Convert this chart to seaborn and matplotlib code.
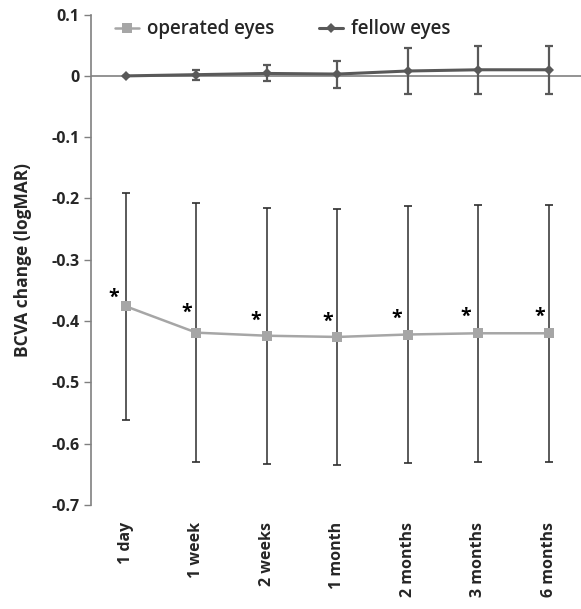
import matplotlib
matplotlib.use("Agg")
import matplotlib.pyplot as plt
import seaborn as sns
import pandas as pd
import numpy as np

categories = ["1 day", "1 week", "2 weeks", "1 month", "2 months", "3 months", "6 months"]
operated_mean = [-0.376, -0.419, -0.424, -0.426, -0.422, -0.420, -0.420]
operated_sd = [0.185, 0.211, 0.209, 0.209, 0.210, 0.210, 0.210]
fellow_mean = [0.000, 0.002, 0.004, 0.003, 0.008, 0.010, 0.010]
fellow_sd = [0.000, 0.008, 0.013, 0.022, 0.037, 0.039, 0.039]
yticks = [0.1, 0, -0.1, -0.2, -0.3, -0.4, -0.5, -0.6, -0.7]

sns.set_theme(style="white")
plt.rcParams["font.family"] = ["Open Sans", "DejaVu Sans"]

df = pd.DataFrame({
    "time": categories * 2,
    "change": operated_mean + fellow_mean,
    "group": ["operated eyes"] * 7 + ["fellow eyes"] * 7,
})

fig = plt.figure(figsize=(5.81, 6.09), dpi=100)
ax = fig.add_axes([0.156, 0.171, 0.846, 0.805])

OP = "#a6a6a6"
FE = "#595959"

sns.lineplot(data=df, x="time", y="change", hue="group", style="group",
             palette={"operated eyes": OP, "fellow eyes": FE},
             markers={"operated eyes": "s", "fellow eyes": "D"},
             dashes=False, sort=False, ax=ax, zorder=4,
             markeredgewidth=0)
pos = np.arange(len(categories))
ax.errorbar(pos, operated_mean, yerr=operated_sd, fmt="none", ecolor="#2e2e2e",
            elinewidth=1.1, capsize=3, capthick=1.2, zorder=2)
ax.errorbar(pos, fellow_mean, yerr=fellow_sd, fmt="none", ecolor=FE,
            elinewidth=1.6, capsize=3, capthick=1.6, zorder=3)

for line in ax.get_lines():
    c = matplotlib.colors.to_hex(line.get_color())
    if c == OP:
        line.set_linewidth(1.8)
        line.set_markersize(7)
    elif c == FE:
        line.set_linewidth(2.2)
        line.set_markersize(5)

ax.axhline(0, color="#808080", lw=1.2, zorder=1)

# significance asterisks
offsets = [(-9, 6), (-7, 14), (-8, 11), (-7, 11), (-8, 11), (-9, 12), (-7, 12)]
for i, (m, off) in enumerate(zip(operated_mean, offsets)):
    ax.annotate("*", xy=(i, m), xytext=off, textcoords="offset points",
                ha="center", va="center", fontsize=14, fontweight="bold",
                color="black")

ax.set_xlim(-0.5, 6.47)
ax.set_ylim(-0.7, 0.1)
ax.set_yticks(yticks)
ax.set_yticklabels(["0.1", "0", "-0.1", "-0.2", "-0.3", "-0.4", "-0.5", "-0.6", "-0.7"],
                   fontweight="bold", fontsize=11.5)
ax.set_xticks(pos)
ax.set_xticklabels(categories, rotation=90, fontweight="bold", fontsize=11.5)
ax.tick_params(axis="x", length=0, pad=12)
ax.tick_params(axis="y", length=5, width=1, color="#808080", direction="out", left=True, pad=3)
for s in ["top", "right", "bottom"]:
    ax.spines[s].set_visible(False)
ax.spines["left"].set_color("#808080")
ax.spines["left"].set_linewidth(1.2)
ax.set_xlabel("")
ax.set_ylabel("BCVA change (logMAR)", fontweight="bold", fontsize=12.5, labelpad=14)

handles, labels = ax.get_legend_handles_labels()
order = [labels.index("operated eyes"), labels.index("fellow eyes")]
ax.legend([handles[i] for i in order], [labels[i] for i in order], ncol=2,
          frameon=False, loc="upper left", bbox_to_anchor=(0.015, 1.025),
          prop={"size": 13.5, "weight": "semibold"},
          handlelength=1.3, handletextpad=0.4, columnspacing=2.4)

fig.savefig("out.png", dpi=100)
